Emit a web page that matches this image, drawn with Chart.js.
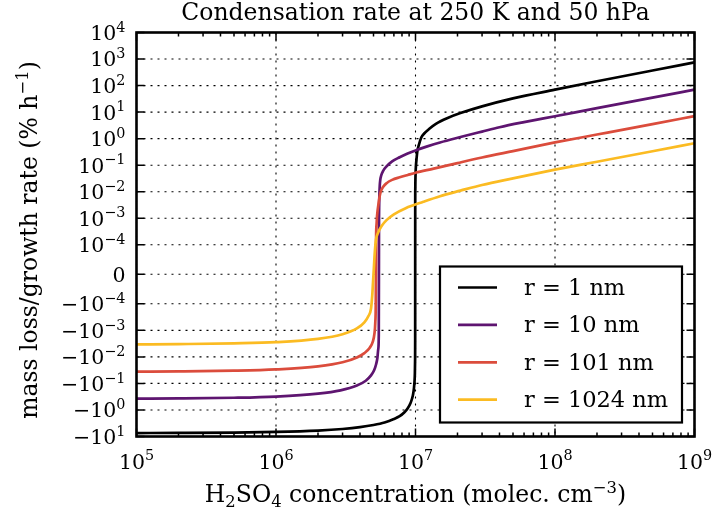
<!DOCTYPE html>
<html>
<head>
<meta charset="utf-8">
<script src="https://cdn.jsdelivr.net/npm/chart.js@4/dist/chart.umd.min.js"></script>
<style>
  html, body { margin: 0; padding: 0; background: #fff; }
  canvas { display: block; }
</style>
</head>
<body>
<canvas id="chart" width="713" height="516"></canvas>
<script>
const FONT = '"DejaVu Serif", serif';

// H2SO4 concentration (molec. cm^-3) and mass loss/growth rate (% h^-1), one pair per radius
const concR1 = [1e5, 2e5, 5e5, 1e6, 2e6, 3e6, 4e6, 5e6, 6e6, 7e6, 7.7e6, 8.3e6, 8.8e6, 9.2e6, 9.45e6, 9.62e6, 9.75e6, 9.84e6, 9.9e6, 9.935e6, 9.948e6, 9.955e6, 9.965e6, 9.985e6, 1.002e7, 1.008e7, 1.017e7, 1.03e7, 1.055e7, 1.1e7, 1.16e7, 1.25e7, 1.4e7, 1.7e7, 2.1e7, 3e7, 5e7, 1e8, 2e8, 5e8, 1e9];
const rateR1 = [-7.4, -7.32, -7.1, -6.72, -5.97, -5.22, -4.46, -3.7, -2.97, -2.2, -1.72, -1.25, -0.86, -0.56, -0.37, -0.25, -0.15, -0.085, -0.04, -0.012, -0.002, 0.004, 0.012, 0.028, 0.055, 0.1, 0.17, 0.33, 0.56, 1.1, 1.6, 2.3, 3.6, 6.0, 9.2, 16.5, 33, 70, 145, 370, 745];

const concR10 = [1e5, 2e5, 5e5, 1e6, 2e6, 2.9e6, 3.8e6, 4.4e6, 4.8e6, 5.05e6, 5.22e6, 5.33e6, 5.41e6, 5.455e6, 5.475e6, 5.49e6, 5.51e6, 5.54e6, 5.59e6, 5.67e6, 5.85e6, 6.2e6, 6.8e6, 7.7e6, 8.7e6, 1e7, 1.2e7, 1.5e7, 2.1e7, 3e7, 4e7, 6e7, 1e8, 2e8, 5e8, 1e9];
const rateR10 = [-0.375, -0.368, -0.347, -0.312, -0.242, -0.182, -0.12, -0.079, -0.05, -0.032, -0.019, -0.011, -0.005, -0.0015, 0.0005, 0.003, 0.008, 0.016, 0.028, 0.04, 0.06, 0.09, 0.14, 0.2, 0.27, 0.36, 0.5, 0.72, 1.15, 1.85, 2.7, 4.2, 7.0, 14.1, 35.3, 70];

const concR101 = [1e5, 2e5, 5e5, 1e6, 2e6, 3e6, 3.8e6, 4.3e6, 4.7e6, 4.95e6, 5.08e6, 5.15e6, 5.19e6, 5.22e6, 5.26e6, 5.3e6, 5.45e6, 5.6e6, 5.85e6, 6.2e6, 6.8e6, 7.7e6, 8.8e6, 1e7, 1.35e7, 2e7, 3e7, 5e7, 1e8, 2e8, 5e8, 1e9];
const rateR101 = [-0.036, -0.0353, -0.0332, -0.0297, -0.0228, -0.016, -0.0105, -0.0072, -0.0045, -0.0026, -0.0013, -0.0005, -0.0001, 0.0002, 0.0006, 0.0012, 0.004, 0.009, 0.015, 0.021, 0.028, 0.035, 0.043, 0.052, 0.074, 0.12, 0.195, 0.34, 0.72, 1.43, 3.55, 7.1];

const concR1024 = [1e5, 2e5, 5e5, 1e6, 2e6, 3e6, 3.8e6, 4.3e6, 4.6e6, 4.8e6, 4.9e6, 4.97e6, 5.03e6, 5.1e6, 5.2e6, 5.4e6, 5.7e6, 6.2e6, 7e6, 8.5e6, 1.14e7, 1.5e7, 2.1e7, 3e7, 5e7, 1e8, 2e8, 5e8, 1e9];
const rateR1024 = [-0.0034, -0.0033, -0.0031, -0.0028, -0.0021, -0.0014, -0.00085, -0.0005, -0.00029, -0.00015, -0.00007, -0.00002, 0.00002, 0.00007, 0.00015, 0.00029, 0.0005, 0.00085, 0.0014, 0.0024, 0.0042, 0.0068, 0.011, 0.018, 0.032, 0.068, 0.135, 0.335, 0.67];

const seriesLabels = ['r = 1 nm', 'r = 10 nm', 'r = 101 nm', 'r = 1024 nm'];
const seriesColors = ['#000000', '#5e1570', '#db4c3c', '#fbbb22'];

// Axis ticks
const xTickValues = [1e5, 1e6, 1e7, 1e8, 1e9];
const xTickExponents = ['5', '6', '7', '8', '9'];
const yTickValues = [1e4, 1e3, 1e2, 1e1, 1, 1e-1, 1e-2, 1e-3, 1e-4, 0, -1e-4, -1e-3, -1e-2, -1e-1, -1, -10];
const yTickBases = ['10', '10', '10', '10', '10', '10', '10', '10', '10', '0', '\u221210', '\u221210', '\u221210', '\u221210', '\u221210', '\u221210'];
const yTickExponents = ['4', '3', '2', '1', '0', '\u22121', '\u22122', '\u22123', '\u22124', '', '\u22124', '\u22123', '\u22122', '\u22121', '0', '1'];

const titleText = 'Condensation rate at 250 K and 50 hPa';
const xTitleParts = [['H', ''], ['2', 'sub'], ['SO', ''], ['4', 'sub'], [' concentration (molec. cm', ''], ['\u22123', 'sup'], [')', '']];
const yTitleParts = [['mass loss/growth rate (% h', ''], ['\u22121', 'sup'], [')', '']];

// Symmetric log transform (base 10, linear within +-1e-4)
const LINTHRESH = 1e-4;
const LINSCALE_ADJ = 1 / (1 - 1 / 10);
function symlog(v) {
  const a = Math.abs(v);
  if (a <= LINTHRESH) return v * LINSCALE_ADJ / LINTHRESH;
  return Math.sign(v) * (LINSCALE_ADJ + Math.log10(a / LINTHRESH));
}
function symexp(t) {
  const a = Math.abs(t);
  if (a <= LINSCALE_ADJ) return t * LINTHRESH / LINSCALE_ADJ;
  return Math.sign(t) * LINTHRESH * Math.pow(10, a - LINSCALE_ADJ);
}

class SymLogScale extends Chart.LinearScale {
  determineDataLimits() {
    this.min = this.options.min;
    this.max = this.options.max;
  }
  buildTicks() {
    return yTickValues.map(v => ({ value: v }));
  }
  configure() {
    super.configure();
    this._tLo = symlog(this.min);
    this._tHi = symlog(this.max);
  }
  getPixelForValue(value) {
    return this.getPixelForDecimal((symlog(value) - this._tLo) / (this._tHi - this._tLo));
  }
  getValueForPixel(pixel) {
    return symexp(this._tLo + this.getDecimalForPixel(pixel) * (this._tHi - this._tLo));
  }
}
SymLogScale.id = 'symlog';
SymLogScale.defaults = {};
Chart.register(SymLogScale);

function drawRich(ctx, parts, x, y, align, size) {
  const small = size * 0.7;
  const fontOf = m => (m ? small : size) + 'px ' + FONT;
  let total = 0;
  const widths = parts.map(([t, m]) => {
    ctx.font = fontOf(m);
    const w = ctx.measureText(t).width;
    total += w;
    return w;
  });
  let cx = align === 'right' ? x - total : align === 'center' ? x - total / 2 : x;
  ctx.textAlign = 'left';
  ctx.textBaseline = 'alphabetic';
  parts.forEach(([t, m], i) => {
    ctx.font = fontOf(m);
    const dy = m === 'sup' ? -size * 0.4 : m === 'sub' ? size * 0.22 : 0;
    ctx.fillText(t, cx, y + dy);
    cx += widths[i];
  });
}

const axesDecor = {
  id: 'axesDecor',
  beforeDatasetsDraw(chart) {
    const { ctx, chartArea: a, scales: { x, y } } = chart;
    ctx.save();
    ctx.strokeStyle = '#000';
    ctx.lineWidth = 1.1;
    ctx.setLineDash([2, 5]);
    xTickValues.forEach(v => {
      const px = x.getPixelForValue(v);
      ctx.beginPath(); ctx.moveTo(px, a.top); ctx.lineTo(px, a.bottom); ctx.stroke();
    });
    yTickValues.forEach(v => {
      const py = y.getPixelForValue(v);
      ctx.beginPath(); ctx.moveTo(a.left, py); ctx.lineTo(a.right, py); ctx.stroke();
    });
    ctx.restore();
  },
  afterDatasetsDraw(chart) {
    const { ctx, chartArea: a, scales: { x, y } } = chart;
    ctx.save();
    ctx.strokeStyle = '#000';
    ctx.fillStyle = '#000';

    // tick marks, pointing inward on all four sides
    ctx.lineWidth = 1.5;
    const major = 8, minor = 4;
    xTickValues.forEach((v, i) => {
      const px = x.getPixelForValue(v);
      ctx.beginPath();
      ctx.moveTo(px, a.bottom); ctx.lineTo(px, a.bottom - major);
      ctx.moveTo(px, a.top); ctx.lineTo(px, a.top + major);
      ctx.stroke();
      if (i < xTickValues.length - 1) {
        for (let m = 2; m <= 9; m++) {
          const pm = x.getPixelForValue(v * m);
          ctx.beginPath();
          ctx.moveTo(pm, a.bottom); ctx.lineTo(pm, a.bottom - minor);
          ctx.moveTo(pm, a.top); ctx.lineTo(pm, a.top + minor);
          ctx.stroke();
        }
      }
    });
    yTickValues.forEach(v => {
      const py = y.getPixelForValue(v);
      ctx.beginPath();
      ctx.moveTo(a.left, py); ctx.lineTo(a.left + major, py);
      ctx.moveTo(a.right, py); ctx.lineTo(a.right - major, py);
      ctx.stroke();
    });

    // frame
    ctx.lineWidth = 2.6;
    ctx.strokeRect(a.left, a.top, a.right - a.left, a.bottom - a.top);

    // legend
    const lw = 242, lh = 156, lx = a.right - 12.5 - lw, ly = a.bottom - 14 - lh;
    ctx.fillStyle = '#fff';
    ctx.fillRect(lx, ly, lw, lh);
    ctx.lineWidth = 2.2;
    ctx.strokeRect(lx, ly, lw, lh);
    chart.data.datasets.forEach((ds, i) => {
      const ry = ly + 21 + i * 37.4;
      ctx.strokeStyle = ds.borderColor;
      ctx.lineWidth = 2.7;
      ctx.beginPath(); ctx.moveTo(lx + 18, ry); ctx.lineTo(lx + 57, ry); ctx.stroke();
      ctx.fillStyle = '#000';
      ctx.font = '22.5px ' + FONT;
      ctx.textAlign = 'left';
      ctx.textBaseline = 'alphabetic';
      ctx.fillText(ds.label, lx + 84, ry + 7.5);
    });

    // tick labels
    ctx.fillStyle = '#000';
    const ts = 20.5;
    xTickValues.forEach((v, i) => {
      drawRich(ctx, [['10', ''], [xTickExponents[i], 'sup']], x.getPixelForValue(v), a.bottom + 32, 'center', ts);
    });
    yTickValues.forEach((v, i) => {
      const parts = yTickExponents[i] ? [[yTickBases[i], ''], [yTickExponents[i], 'sup']] : [[yTickBases[i], '']];
      drawRich(ctx, parts, a.left - 11, y.getPixelForValue(v) + 0.36 * ts, 'right', ts);
    });

    // title and axis titles
    ctx.font = '23.5px ' + FONT;
    ctx.textAlign = 'center';
    ctx.textBaseline = 'alphabetic';
    ctx.fillText(titleText, (a.left + a.right) / 2, 20);
    drawRich(ctx, xTitleParts, (a.left + a.right) / 2, 502, 'center', 23.5);
    ctx.translate(37, 240);
    ctx.rotate(-Math.PI / 2);
    drawRich(ctx, yTitleParts, 0, 0, 'center', 23.5);
    ctx.restore();
  }
};

const series = [
  [concR1, rateR1], [concR10, rateR10], [concR101, rateR101], [concR1024, rateR1024]
];

new Chart(document.getElementById('chart'), {
  type: 'line',
  data: {
    datasets: series.map(([xs, ys], i) => ({
      label: seriesLabels[i],
      data: xs.map((c, j) => ({ x: c, y: ys[j] })),
      borderColor: seriesColors[i],
      borderWidth: 2.7,
      pointRadius: 0,
      cubicInterpolationMode: 'monotone',
      fill: false,
      order: series.length - i
    }))
  },
  options: {
    responsive: false,
    animation: false,
    devicePixelRatio: 1,
    layout: { padding: { top: 32.5, right: 18.5, left: 0, bottom: 0 } },
    plugins: { legend: { display: false }, tooltip: { enabled: false }, title: { display: false } },
    scales: {
      x: {
        type: 'logarithmic', min: 1e5, max: 1e9,
        afterBuildTicks: s => { s.ticks = xTickValues.map(v => ({ value: v })); },
        afterFit: s => { s.height = 79.5; },
        grid: { display: false }, border: { display: false }, ticks: { display: false }
      },
      y: {
        type: 'symlog', min: -10, max: 1e4,
        afterFit: s => { s.width = 136.5; },
        grid: { display: false }, border: { display: false }, ticks: { display: false }
      }
    }
  },
  plugins: [axesDecor]
});
</script>
</body>
</html>
